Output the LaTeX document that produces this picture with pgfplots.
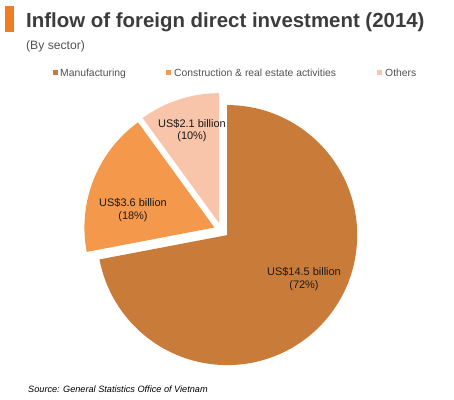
\documentclass[border=0pt]{standalone}
\usepackage{pgfplots}
\pgfplotsset{compat=1.18}
\usepackage{pgfplotstable}
\usepackage{fontspec}
\setmainfont{Liberation Sans}
\definecolor{cManu}{RGB}{201,124,58}
\definecolor{cCons}{RGB}{244,153,76}
\definecolor{cOth}{RGB}{248,196,170}
\definecolor{cBar}{RGB}{240,125,35}
\definecolor{cTitle}{RGB}{60,60,60}
\definecolor{cSub}{RGB}{80,80,80}
\definecolor{cLab}{RGB}{25,25,25}

\pgfplotstableread{
idx value pct
0 14.5 72
1 3.6 18
2 2.1 10
}\piedata

\begin{document}
\begin{tikzpicture}
\pgfplotstablegetelem{0}{pct}\of\piedata \let\pA\pgfplotsretval
\pgfplotstablegetelem{1}{pct}\of\piedata \let\pB\pgfplotsretval
\pgfplotstablegetelem{2}{pct}\of\piedata \let\pC\pgfplotsretval
\pgfmathsetmacro\aO{90}
\pgfmathsetmacro\aA{\aO-3.6*\pA}
\pgfmathsetmacro\aB{\aA-3.6*\pB}
\pgfmathsetmacro\aC{\aB-3.6*\pC}
\pgfmathsetmacro\mA{(\aO+\aA)/2}
\pgfmathsetmacro\mB{(\aA+\aB)/2}
\pgfmathsetmacro\mC{(\aB+\aC)/2}
% pie centre (pixel coords), explode distance, radius
\def\pcx{221.4}\def\pcy{230.3}\def\ex{7.5}\def\R{130}
\pgfmathsetmacro\xA{\pcx+\ex*cos(\mA)}\pgfmathsetmacro\yA{\pcy-\ex*sin(\mA)}
\pgfmathsetmacro\xB{\pcx+\ex*cos(\mB)}\pgfmathsetmacro\yB{\pcy-\ex*sin(\mB)}
\pgfmathsetmacro\xC{\pcx+\ex*cos(\mC)}\pgfmathsetmacro\yC{\pcy-\ex*sin(\mC)}
\begin{axis}[
  at={(0,0)}, anchor=south west,
  scale only axis, width=454bp, height=400bp,
  xmin=0, xmax=454, ymin=0, ymax=400, y dir=reverse,
  hide axis, clip=false,
]
\path (axis cs:0,0) rectangle (axis cs:454,400);
\fill[cManu] (axis cs:\xA,\yA) -- ++(\aO:\R bp) arc[start angle=\aO, end angle=\aA, radius=\R bp] -- cycle;
\fill[cCons] (axis cs:\xB,\yB) -- ++(\aA:\R bp) arc[start angle=\aA, end angle=\aB, radius=\R bp] -- cycle;
\fill[cOth] (axis cs:\xC,\yC) -- ++(\aB:\R bp) arc[start angle=\aB, end angle=\aC, radius=\R bp] -- cycle;

\node[align=center, text=cLab, font=\fontsize{11}{12.5}\selectfont] at (axis cs:304,279) {US\$14.5 billion\\(72\%)};
\node[align=center, text=cLab, font=\fontsize{11}{12.5}\selectfont] at (axis cs:133,210) {US\$3.6 billion\\(18\%)};
\node[align=center, text=cLab, font=\fontsize{11}{12.5}\selectfont] at (axis cs:192,130.5) {US\$2.1 billion\\(10\%)};

% title block
\fill[cBar] (axis cs:5,6) rectangle (axis cs:14,32);
\node[anchor=base west, inner sep=0pt, text=cTitle, font=\fontsize{20.5}{24}\selectfont\bfseries] at (axis cs:26,27.5) {Inflow of foreign direct investment (2014)};
\node[anchor=base west, inner sep=0pt, text=cSub, font=\fontsize{12.2}{14}\selectfont] at (axis cs:26,49.5) {(By sector)};

% legend
\fill[cManu] (axis cs:53,69.5) rectangle (axis cs:58,74.5);
\node[anchor=base west, inner sep=0pt, text=cSub, font=\fontsize{10.4}{12}\selectfont] at (axis cs:60,76) {Manufacturing};
\fill[cCons] (axis cs:166,69.5) rectangle (axis cs:171,74.5);
\node[anchor=base west, inner sep=0pt, text=cSub, font=\fontsize{10.4}{12}\selectfont] at (axis cs:174,76) {Construction \& real estate activities};
\fill[cOth] (axis cs:377,69.5) rectangle (axis cs:382,74.5);
\node[anchor=base west, inner sep=0pt, text=cSub, font=\fontsize{10.4}{12}\selectfont] at (axis cs:385,76) {Others};

% source
\node[anchor=base west, inner sep=0pt, text=black, font=\fontsize{9.2}{11}\selectfont\itshape] at (axis cs:28,392) {Source: General Statistics Office of Vietnam};
\end{axis}
\end{tikzpicture}
\end{document}
